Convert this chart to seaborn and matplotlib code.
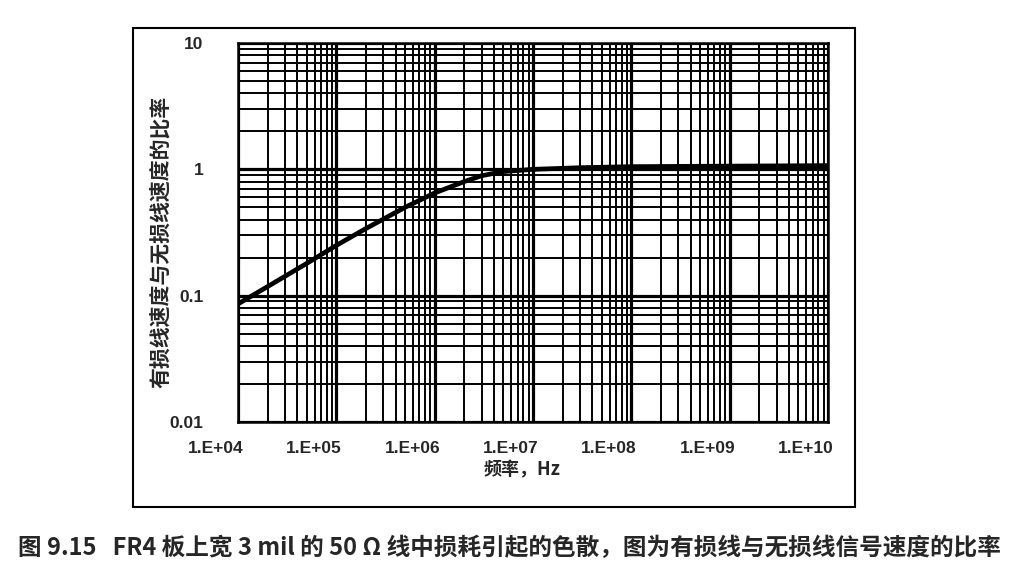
import numpy as np
import pandas as pd
import matplotlib
matplotlib.use("Agg")
import matplotlib.pyplot as plt
import matplotlib.ticker as mticker
from matplotlib.patches import Rectangle
import seaborn as sns

# data
freq_hz = [1e4, 2e4, 5e4, 1e5, 2e5, 5e5, 1e6, 2e6, 3e6, 5e6, 1e7, 3e7, 1e8, 1e9, 1e10]
speed_ratio = [0.086, 0.118, 0.18, 0.25, 0.34, 0.50, 0.65, 0.80, 0.89, 0.96, 1.0, 1.03, 1.05, 1.06, 1.07]
x_ticks = [1e4, 1e5, 1e6, 1e7, 1e8, 1e9, 1e10]
x_tick_labels = ["1.E+04", "1.E+05", "1.E+06", "1.E+07", "1.E+08", "1.E+09", "1.E+10"]
y_ticks = [0.01, 0.1, 1, 10]
y_tick_labels = ["0.01", "0.1", "1", "10"]

df = pd.DataFrame({"freq": freq_hz, "ratio": speed_ratio})

sns.set_theme(style="white")
plt.rcParams['font.family'] = ['Liberation Sans', 'Noto Sans CJK SC', 'DejaVu Sans']

W, H = 1027, 569
fig = plt.figure(figsize=(W / 100, H / 100), dpi=100)
ax = fig.add_axes([238 / W, 1 - 422 / H, (828 - 238) / W, (422 - 43) / H])

sns.lineplot(data=df, x="freq", y="ratio", ax=ax, color="black", linewidth=3.4, zorder=5)
ax.set_xscale("log")
ax.set_yscale("log")
ax.set_xlim(1e4, 1e10)
ax.set_ylim(0.01, 10)

# grid like graph paper
ax.xaxis.set_minor_locator(mticker.LogLocator(base=10, subs=np.arange(2, 10)))
ax.yaxis.set_minor_locator(mticker.LogLocator(base=10, subs=np.arange(2, 10)))
ax.grid(True, which="major", color="black", linewidth=2.3)
ax.grid(True, which="minor", color="black", linewidth=1.4)
ax.set_axisbelow(True)

ax.set_xticks(x_ticks)
ax.set_xticklabels(x_tick_labels, ha="right", fontsize=12.5, fontweight="bold")
ax.set_yticks(y_ticks)
ax.set_yticklabels(y_tick_labels, fontsize=12.5, fontweight="bold")
ax.tick_params(axis="x", which="major", direction="out", length=5, width=1.5, color="black", pad=9)
ax.tick_params(axis="y", which="major", direction="out", length=5, width=1.5, color="black", pad=20)
ax.tick_params(which="minor", length=0)
offset = matplotlib.transforms.ScaledTranslation(4 / 72, 0, fig.dpi_scale_trans)
for lbl in ax.get_xticklabels():
    lbl.set_transform(lbl.get_transform() + offset)

for s in ax.spines.values():
    s.set_color("black")
    s.set_linewidth(1.8)

ax.set_xlabel("")
ax.set_ylabel("")

cjk = ['Noto Sans CJK SC', 'DejaVu Sans']
fig.text(160 / W, 1 - 242 / H, "有损线速度与无损线速度的比率", rotation=90,
         ha="center", va="center", fontsize=15, fontweight="bold", family=cjk)
fig.text(522 / W, 1 - 470 / H, "频率，Hz", ha="center", va="center",
         fontsize=13, fontweight="bold", family=cjk)

# outer frame of the chart
fig.patches.append(Rectangle((133 / W, 1 - 507 / H), (855 - 133) / W, (507 - 28) / H,
                             transform=fig.transFigure, fill=False,
                             edgecolor="black", linewidth=1.5))

fig.text(18 / W, 1 - 548 / H,
         "图 9.15   FR4 板上宽 3 mil 的 50 Ω 线中损耗引起的色散，图为有损线与无损线信号速度的比率",
         ha="left", va="center", fontsize=17, fontweight="bold", family=cjk)

fig.savefig("out.png", dpi=100, facecolor="white")
